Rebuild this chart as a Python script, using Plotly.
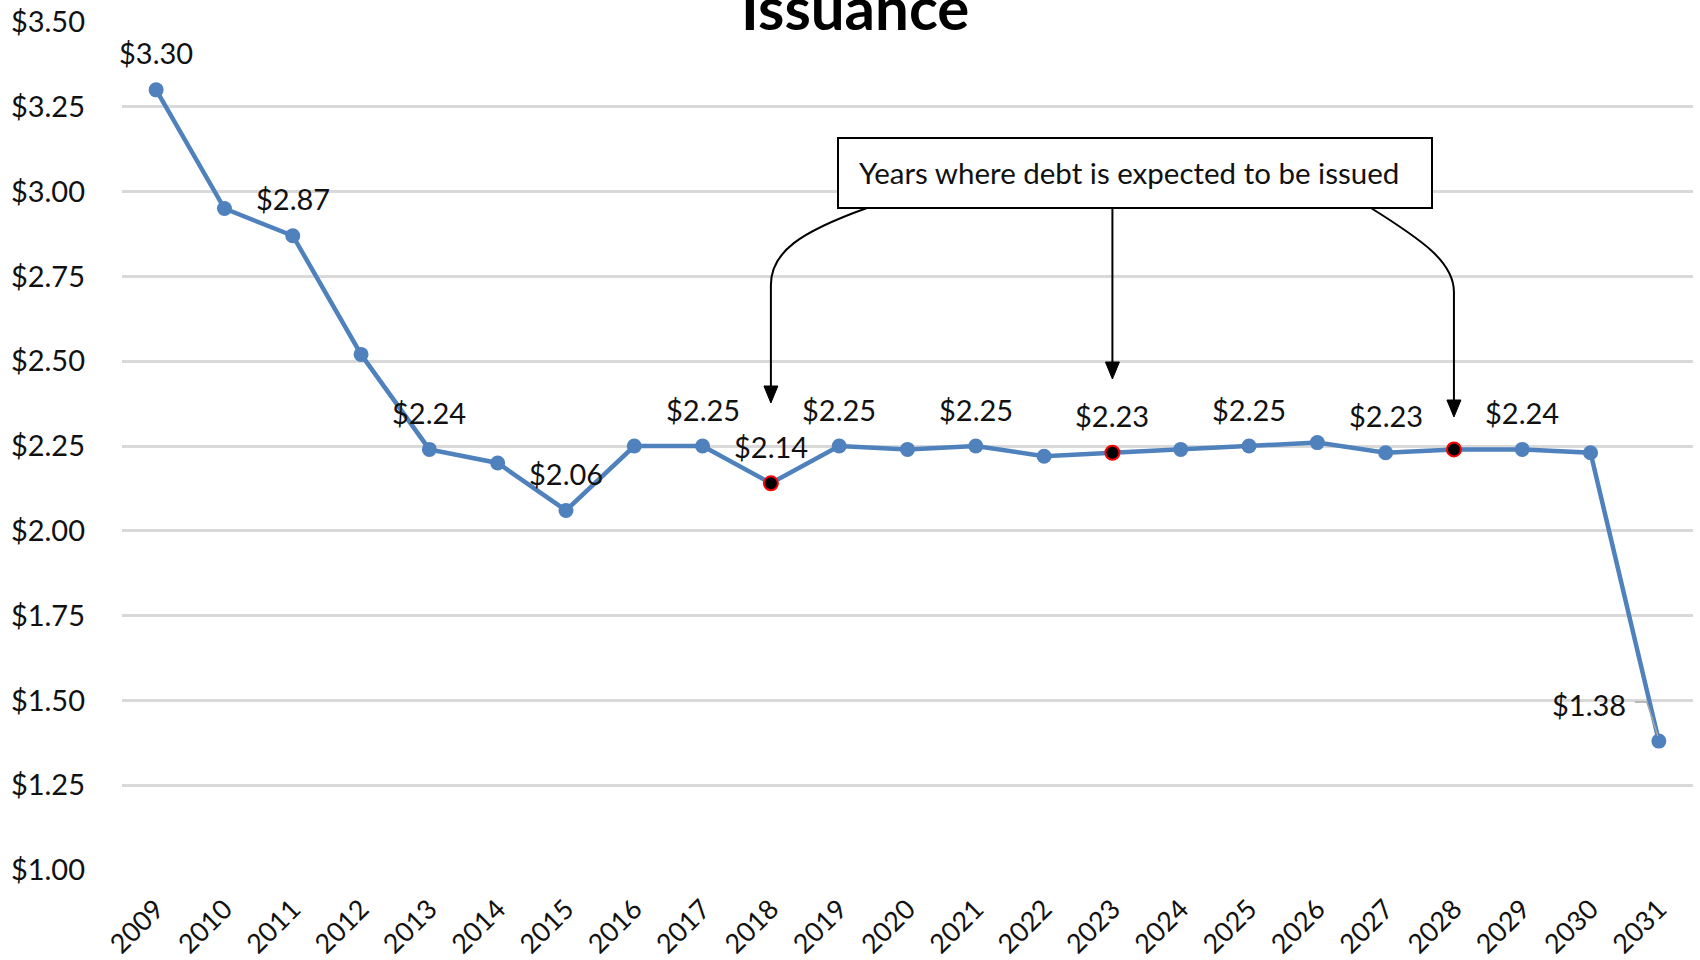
import plotly.graph_objects as go

# ---- data -------------------------------------------------------------
years = ["2009", "2010", "2011", "2012", "2013", "2014", "2015", "2016",
         "2017", "2018", "2019", "2020", "2021", "2022", "2023", "2024",
         "2025", "2026", "2027", "2028", "2029", "2030", "2031"]
cost = [3.30, 2.95, 2.87, 2.52, 2.24, 2.20, 2.06, 2.25,
        2.25, 2.14, 2.25, 2.24, 2.25, 2.22, 2.23, 2.24,
        2.25, 2.26, 2.23, 2.24, 2.24, 2.23, 1.38]
issuance_years = ["2018", "2023", "2028"]
labeled_years = ["2009", "2011", "2013", "2015", "2017", "2018", "2019",
                 "2021", "2023", "2025", "2027", "2029", "2031"]
y_tick_vals = [1.00, 1.25, 1.50, 1.75, 2.00, 2.25, 2.50, 2.75, 3.00, 3.25, 3.50]
y_tick_text = ["$1.00", "$1.25", "$1.50", "$1.75", "$2.00", "$2.25",
               "$2.50", "$2.75", "$3.00", "$3.25", "$3.50"]
callout_text = "Years where debt is expected to be issued"
title_text = "Issuance"

# ---- layout geometry (pixels) -----------------------------------------
FIG_W, FIG_H = 1700, 960
L, R, T, B = 122, 1693, 22, 870
W, H = R - L, B - T
N = len(years)

BLUE = "#4F81BD"
FONT = "Lato"
TEXT = "#111111"


def fx(x):
    return (x - L) / W


def fy(y):
    return (B - y) / H


def cat_px(year):
    return L + (years.index(year) + 0.5) * W / N


fig = go.Figure()

fig.add_trace(go.Scatter(
    x=years, y=cost, mode="lines+markers",
    line=dict(color=BLUE, width=4.5),
    marker=dict(color=BLUE, size=15),
    hoverinfo="x+y", showlegend=False,
))

iss_vals = [cost[years.index(y)] for y in issuance_years]
fig.add_trace(go.Scatter(
    x=issuance_years, y=iss_vals, mode="markers",
    marker=dict(color="black", size=14, line=dict(color="red", width=2)),
    showlegend=False,
))

annotations = []
# value labels (category axes take the category's serial index)
for yr in labeled_years:
    i = years.index(yr)
    v = cost[i]
    shift_x = -70 if yr == "2031" else 0
    annotations.append(dict(
        x=i, y=v, xref="x", yref="y", text=f"${v:.2f}",
        showarrow=False, xanchor="center", yanchor="middle",
        xshift=shift_x, yshift=37,
        font=dict(family=FONT, size=29, color=TEXT),
    ))

# title (second line of the heading)
annotations.append(dict(
    x=fx(855), y=fy(7), xref="paper", yref="paper", text=f"<b>{title_text}</b>",
    showarrow=False, xanchor="center", yanchor="middle",
    font=dict(family=FONT, size=60, color="black"),
))

# callout text
annotations.append(dict(
    x=fx(857), y=fy(172), xref="paper", yref="paper", text=callout_text,
    showarrow=False, xanchor="left", yanchor="middle",
    font=dict(family=FONT, size=29.5, color=TEXT),
))

shapes = []
# callout box
shapes.append(dict(
    type="rect", xref="paper", yref="paper",
    x0=fx(838), x1=fx(1432), y0=fy(208), y1=fy(138),
    line=dict(color="black", width=2), fillcolor="white", layer="above",
))

# connectors from the callout to the issuance years
x18, x23, x28 = cat_px("2018"), cat_px("2023"), cat_px("2028")
tips = {x18: 403, x23: 379, x28: 417}
paths = [
    f"M {fx(867)},{fy(208)} C {fx(800)},{fy(232)} {fx(x18)},{fy(252)} "
    f"{fx(x18)},{fy(285)} L {fx(x18)},{fy(tips[x18] - 15)}",
    f"M {fx(x23)},{fy(208)} L {fx(x23)},{fy(tips[x23] - 15)}",
    f"M {fx(1371)},{fy(208)} C {fx(1422)},{fy(240)} {fx(x28)},{fy(262)} "
    f"{fx(x28)},{fy(292)} L {fx(x28)},{fy(tips[x28] - 15)}",
]
for p in paths:
    shapes.append(dict(type="path", xref="paper", yref="paper", path=p,
                       line=dict(color="black", width=2), layer="above"))
for x, ty in tips.items():
    shapes.append(dict(
        type="path", xref="paper", yref="paper",
        path=f"M {fx(x - 7)},{fy(ty - 17)} L {fx(x + 7)},{fy(ty - 17)} "
             f"L {fx(x)},{fy(ty)} Z",
        line=dict(color="black", width=1), fillcolor="black", layer="above",
    ))

# leader line for the final label
shapes.append(dict(
    type="path", xref="x", yref="y", xsizemode="pixel", ysizemode="pixel",
    xanchor=N - 1, yanchor=cost[-1],
    path="M -24,39 L -12,39 L -1,5",
    line=dict(color="#A6A6A6", width=1.5), layer="above",
))

fig.update_layout(
    width=FIG_W, height=FIG_H,
    margin=dict(l=L, r=FIG_W - R, t=T, b=FIG_H - B, autoexpand=False),
    paper_bgcolor="white", plot_bgcolor="white",
    annotations=annotations, shapes=shapes,
    showlegend=False,
)
fig.update_xaxes(
    type="category", range=[-0.5, N - 0.5], tickangle=-45,
    showgrid=False, showline=False, zeroline=False, ticks="",
    ticklabelstandoff=17,
    tickfont=dict(family=FONT, size=27, color=TEXT),
    automargin=False,
)
fig.update_yaxes(
    range=[1.0, 3.5], tickvals=y_tick_vals, ticktext=y_tick_text,
    showgrid=True, gridcolor="#D9D9D9", gridwidth=2.5,
    showline=False, zeroline=False, ticks="", ticklabelstandoff=36,
    tickfont=dict(family=FONT, size=29, color=TEXT),
    automargin=False,
)

fig.write_html("out.html")
